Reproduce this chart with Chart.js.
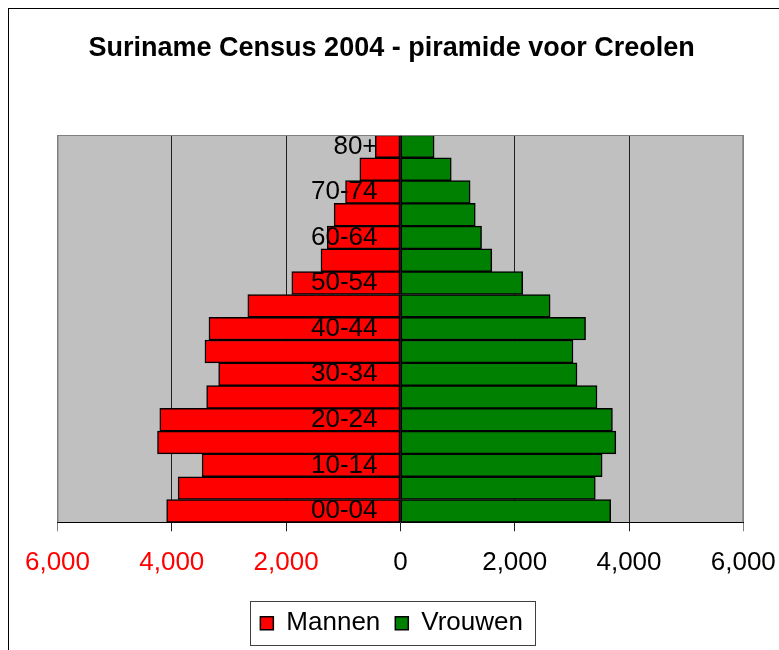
<!DOCTYPE html>
<html>
<head>
<meta charset="utf-8">
<script src="https://cdn.jsdelivr.net/npm/chart.js@4/dist/chart.umd.min.js"></script>
<style>
  html, body { margin: 0; padding: 0; background: #ffffff; }
  #wrap { width: 779px; height: 650px; position: relative; }
</style>
</head>
<body>
<div id="wrap"><canvas id="c" width="779" height="650"></canvas></div>
<script>
// ---- data ----
const chartTitle = 'Suriname Census 2004 - piramide voor Creolen';
const ageGroups = ['00-04','05-09','10-14','15-19','20-24','25-29','30-34','35-39','40-44',
                   '45-49','50-54','55-59','60-64','65-69','70-74','75-79','80+'];
const mannen  = [4090, 3890, 3470, 4250, 4210, 3390, 3180, 3420, 3350, 2670, 1900, 1390, 1280, 1160, 960, 710, 440];
const vrouwen = [3680, 3410, 3530, 3770, 3710, 3440, 3090, 3020, 3240, 2620, 2140, 1600, 1420, 1310, 1220, 890, 590];
const seriesNames = ['Mannen', 'Vrouwen'];
const xTickValues = [-6000, -4000, -2000, 0, 2000, 4000, 6000];

const FONT = '"Liberation Sans", Arial, Helvetica, sans-serif';

const decorPlugin = {
  id: 'decor',
  beforeDraw(chart) {
    const ctx = chart.ctx, a = chart.chartArea;
    ctx.save();
    ctx.fillStyle = '#ffffff';
    ctx.fillRect(0, 0, chart.width, chart.height);
    ctx.strokeStyle = '#000000';
    ctx.lineWidth = 1;
    ctx.strokeRect(8.5, 8.5, 820, 700);
    ctx.fillStyle = '#C0C0C0';
    ctx.fillRect(a.left, a.top, a.right - a.left, a.bottom - a.top);
    ctx.restore();
  },
  afterDraw(chart) {
    const ctx = chart.ctx, a = chart.chartArea;
    ctx.save();
    ctx.strokeStyle = '#808080';
    ctx.lineWidth = 1;
    ctx.beginPath();
    ctx.moveTo(a.left + 0.5, a.bottom);
    ctx.lineTo(a.left + 0.5, a.top + 0.5);
    ctx.lineTo(a.right - 0.5, a.top + 0.5);
    ctx.lineTo(a.right - 0.5, a.bottom);
    ctx.stroke();
    // legend frame
    const lg = chart.legend;
    if (lg && lg.legendHitBoxes && lg.legendHitBoxes.length) {
      const hb = lg.legendHitBoxes;
      let l = Infinity, r = -Infinity, t = Infinity, b = -Infinity;
      hb.forEach(h => { l = Math.min(l, h.left); r = Math.max(r, h.left + h.width); t = Math.min(t, h.top); b = Math.max(b, h.top + h.height); });
      ctx.strokeStyle = '#404040';
      ctx.strokeRect(Math.round(l - 10) + 0.5, Math.round(t - 9) + 0.5, Math.round(r - l + 22), Math.round(b - t + 18));
    }
    ctx.restore();
  }
};

new Chart(document.getElementById('c'), {
  type: 'bar',
  data: {
    labels: ageGroups,
    datasets: [
      { label: seriesNames[0], data: mannen.map(v => -v), backgroundColor: '#FF0000',
        borderColor: '#000000', borderWidth: 1.5, borderSkipped: false,
        barPercentage: 1, categoryPercentage: 1 },
      { label: seriesNames[1], data: vrouwen, backgroundColor: '#008000',
        borderColor: '#000000', borderWidth: 1.5, borderSkipped: false,
        barPercentage: 1, categoryPercentage: 1 }
    ]
  },
  options: {
    indexAxis: 'y',
    responsive: false,
    animation: false,
    layout: { padding: { left: 40, right: 35.7, top: 10, bottom: 3.7 } },
    scales: {
      x: {
        stacked: true,
        min: -6000, max: 6000,
        afterBuildTicks(scale) { scale.ticks = xTickValues.map(v => ({ value: v })); },
        grid: {
          display: true, drawOnChartArea: true, drawTicks: true, tickLength: 9,
          color: c => (c.tick && Math.abs(c.tick.value) === 6000) ? '#808080' : '#202020',
          lineWidth: 1
        },
        border: { display: true, color: '#000000', width: 1 },
        ticks: {
          padding: 0,
          autoSkip: false,
          maxRotation: 0,
          font: { family: FONT, size: 26, lineHeight: '64px' },
          color: c => (c.tick && c.tick.value < 0) ? '#FF0000' : '#000000',
          callback: v => Math.abs(v).toLocaleString('en-US')
        }
      },
      y: {
        stacked: true,
        reverse: true,
        position: { x: -400 },
        grid: { display: false },
        border: { display: false },
        ticks: {
          z: 1,
          autoSkip: false,
          padding: 0,
          font: { family: FONT, size: 26 },
          color: '#000000',
          callback: (v, i) => (i % 2 === 0 ? ageGroups[i] : '')
        }
      },
      yPad: {
        type: 'linear',
        position: 'left',
        display: true,
        grid: { display: false },
        border: { display: false },
        ticks: { display: false },
        afterFit(scale) { scale.width = 17.5; }
      }
    },
    plugins: {
      title: {
        display: true,
        text: chartTitle,
        color: '#000000',
        font: { family: FONT, size: 27, weight: 'bold', lineHeight: 1.2 },
        padding: { top: 22, bottom: 70.6 }
      },
      legend: {
        display: true,
        position: 'bottom',
        labels: {
          color: '#000000',
          font: { family: FONT, size: 26 },
          boxWidth: 13, boxHeight: 13,
          padding: 15
        }
      },
      tooltip: { enabled: false }
    }
  },
  plugins: [decorPlugin]
});
</script>
</body>
</html>
